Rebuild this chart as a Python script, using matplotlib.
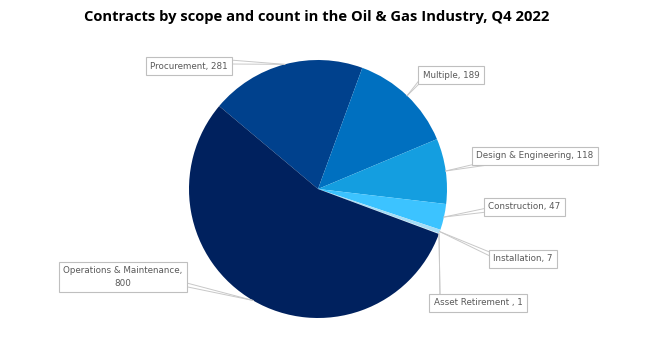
import numpy as np
import matplotlib.pyplot as plt

scopes = ["Procurement", "Multiple", "Design & Engineering", "Construction",
          "Installation", "Asset Retirement ", "Operations & Maintenance"]
counts = [281, 189, 118, 47, 7, 1, 800]
colors = ["#00418D", "#0070C0", "#149EE0", "#3CC3FF", "#A6DDF6", "#D9F0FB", "#00215E"]

# label box centres (pixels, origin top-left) and where the callout attaches to the box
label_pos = [(189, 66), (451, 75), (535, 156), (524, 207), (523, 259), (478, 303), (123, 277)]
box_anchor = [(230, 62), (421, 80), (488, 163), (487, 210), (492, 255), (440, 296), (183, 284)]

W, H = 650, 345
fig = plt.figure(figsize=(6.5, 3.45), dpi=100)

cx, cy, r = 318, 189, 129
ax = fig.add_axes([(cx - r) / W, (H - cy - r) / H, 2 * r / W, 2 * r / H])
wedges, _ = ax.pie(counts, colors=colors, startangle=140, counterclock=False,
                   radius=1, wedgeprops=dict(linewidth=0))
ax.set_xlim(-1, 1)
ax.set_ylim(-1, 1)
ax.set_aspect("equal")
ax.axis("off")

# overlay in pixel coordinates for labels and leader lines
ov = fig.add_axes([0, 0, 1, 1], zorder=5)
ov.set_xlim(0, W)
ov.set_ylim(H, 0)
ov.axis("off")

ov.text(317, 17, "Contracts by scope and count in the Oil & Gas Industry, Q4 2022",
        ha="center", va="center", fontsize=10.6, fontweight="bold", color="black",
        family="Open Sans")

for w, name, n, (lx, ly), (bx, by) in zip(wedges, scopes, counts, label_pos, box_anchor):
    mid = np.deg2rad((w.theta1 + w.theta2) / 2)
    px = cx + r * np.cos(mid)
    py = cy - r * np.sin(mid)
    # callout drawn as two thin converging lines
    ov.plot([bx, px], [by - 2, py], color="#C8C8C8", lw=0.7)
    ov.plot([bx, px], [by + 2, py], color="#C8C8C8", lw=0.7)
    txt = f"{name}, {n}"
    if name.startswith("Operations"):
        txt = f"{name},\n{n}"
    ov.text(lx, ly, txt, ha="center", va="center", fontsize=6.3, color="#595959",
            linespacing=1.6,
            bbox=dict(boxstyle="square,pad=0.5", fc="white", ec="#BFBFBF", lw=0.8))

fig.savefig("out.png", dpi=100)
